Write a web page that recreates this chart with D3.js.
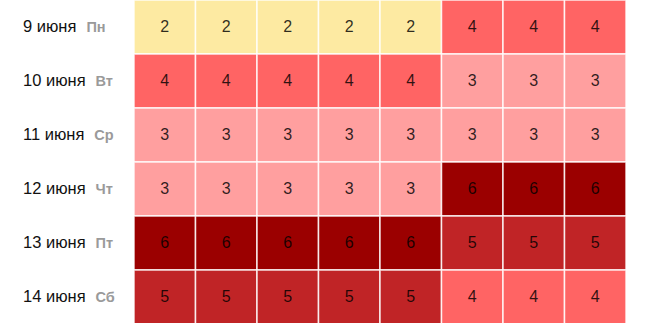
<!DOCTYPE html>
<html>
<head>
<meta charset="utf-8">
<script src="https://cdn.jsdelivr.net/npm/d3@7"></script>
<style>
  body { margin: 0; background: #fff; }
  text { font-family: "Liberation Sans", Arial, sans-serif; }
</style>
</head>
<body>
<div id="chart"></div>
<script>
const width = 656,
  height = 323;

const days = ["9 июня", "10 июня", "11 июня", "12 июня", "13 июня", "14 июня"];
const weekdays = ["Пн", "Вт", "Ср", "Чт", "Пт", "Сб"];
const slots = [0, 1, 2, 3, 4, 5, 6, 7];
const values = [
  [2, 2, 2, 2, 2, 4, 4, 4],
  [4, 4, 4, 4, 4, 3, 3, 3],
  [3, 3, 3, 3, 3, 3, 3, 3],
  [3, 3, 3, 3, 3, 6, 6, 6],
  [6, 6, 6, 6, 6, 5, 5, 5],
  [5, 5, 5, 5, 5, 4, 4, 4]
];
const levels = [2, 3, 4, 5, 6];
const levelColors = ["#fdeaa2", "#ff9f9f", "#ff6464", "#c02426", "#9b0000"];

const color = d3.scaleOrdinal().domain(levels).range(levelColors);

const x = d3.scaleBand().domain(slots).range([134, 626]);
const y = d3.scaleBand().domain(days).range([0, 324]);

const svg = d3
  .select("#chart")
  .append("svg")
  .attr("width", width)
  .attr("height", height);

// flatten rows into cells
const cells = [];
days.forEach((d, i) => {
  values[i].forEach((v, j) => cells.push({ day: d, slot: slots[j], value: v }));
});

svg
  .selectAll("rect.cell")
  .data(cells)
  .join("rect")
  .attr("class", "cell")
  .attr("x", (d) => x(d.slot))
  .attr("y", (d) => y(d.day))
  .attr("width", x.bandwidth())
  .attr("height", y.bandwidth())
  .attr("fill", (d) => color(d.value))
  .attr("stroke", "rgba(255,255,255,0.85)")
  .attr("stroke-width", 1.5);

svg
  .selectAll("text.val")
  .data(cells)
  .join("text")
  .attr("class", "val")
  .attr("x", (d) => x(d.slot) + x.bandwidth() / 2)
  .attr("y", (d) => y(d.day) + y.bandwidth() / 2 + 1)
  .attr("text-anchor", "middle")
  .attr("dominant-baseline", "middle")
  .attr("font-size", 16)
  .attr("fill", "rgba(0,0,0,0.82)")
  .text((d) => d.value);

// row labels: date + weekday
const labels = svg
  .selectAll("text.row")
  .data(days)
  .join("text")
  .attr("class", "row")
  .attr("x", 23)
  .attr("y", (d) => y(d) + y.bandwidth() / 2 + 1)
  .attr("dominant-baseline", "middle");

labels
  .append("tspan")
  .attr("font-size", 16.5)
  .attr("fill", "#111")
  .text((d) => d);

labels
  .append("tspan")
  .attr("dx", 10)
  .attr("font-size", 14.5)
  .attr("font-weight", "bold")
  .attr("fill", "#9a9a9a")
  .text((d, i) => weekdays[i]);
</script>
</body>
</html>
